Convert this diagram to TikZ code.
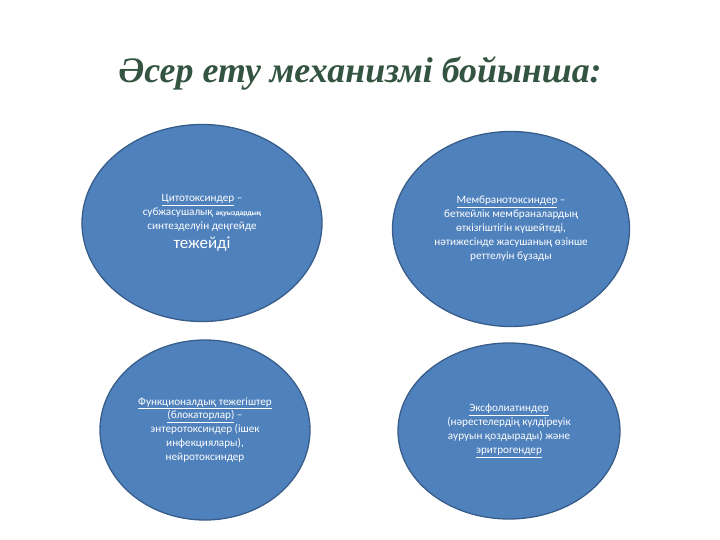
\documentclass[tikz,border=0pt]{standalone}
\usepackage{fontspec}
\setmainfont{Carlito}
\newfontfamily\titlefont{Liberation Serif}
\usetikzlibrary{shapes.geometric}
\usetikzlibrary{positioning}
\definecolor{toxinblue}{RGB}{79,129,189}
\definecolor{toxinedge}{RGB}{56,93,138}
\definecolor{titlegreen}{RGB}{52,84,66}
\tikzstyle{toxin}=[ellipse,fill=toxinblue,draw=toxinedge,line width=1.3pt,inner sep=0pt,text=white,align=center,font=\fontsize{11.2}{14}\selectfont]
\tikzstyle{heading}=[font=\titlefont\bfseries\itshape\fontsize{36}{40}\selectfont,text=titlegreen]

\begin{document}
\begin{tikzpicture}[x=1bp, y=-1bp]

  \useasboundingbox (0,0) rectangle (720,540);

  \node[heading] (title) at (360, 73) {Әсер ету механизмі бойынша:};

   \foreach \x/\y/\w/\h/\name/\txt in {
      202/223/240/197/cyto/{\underline{Цитотоксиндер} --\\ субжасушалық {\fontsize{7.5}{9}\selectfont\bfseries ақуыздардың}\\ синтезделуін деңгейде\\[5pt] {\fontsize{17}{18}\selectfont тежейді}},
      511/229/237/195/membr/{\underline{Мембранотоксиндер} --\\ беткейлік мембраналардың\\ өткізгіштігін күшейтеді,\\ нәтижесінде жасушаның өзінше\\ реттелуін бұзады},
      205/430/210/180/block/{\underline{Функционалдық тежегіштер}\\ \underline{(блокаторлар)} --\\ энтеротоксиндер (ішек\\ инфекциялары),\\ нейротоксиндер},
      509/431/222/176/exfol/{\underline{Эксфолиатиндер}\\ (нәрестелердің күлдіреуік\\ ауруын қоздырады) және\\ \underline{эритрогендер}}}
          \node[toxin, minimum width=\w bp, minimum height=\h bp] (\name) at (\x, \y) {\txt};

\end{tikzpicture}
\end{document}
